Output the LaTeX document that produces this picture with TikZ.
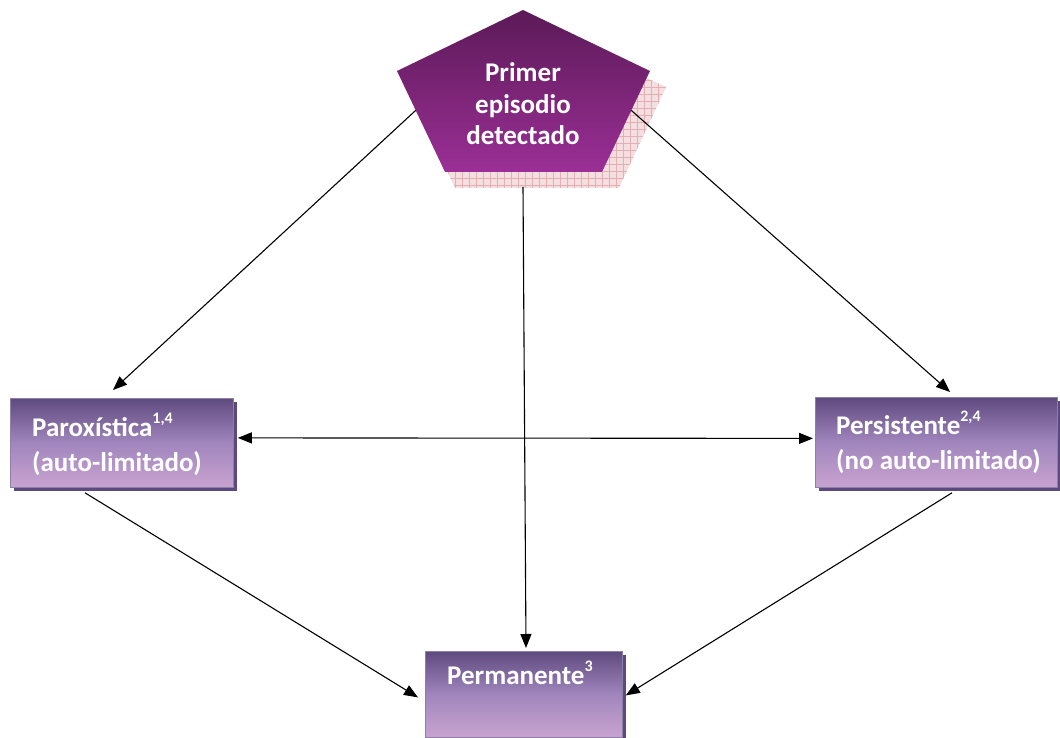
\documentclass[tikz,border=0pt]{standalone}
\usepackage{fontspec}
\setmainfont{Carlito}
\usetikzlibrary{calc,arrows.meta,shadows}
\definecolor{pentop}{HTML}{5B1A57}
\definecolor{penbot}{HTML}{9B2F96}
\definecolor{shpink}{HTML}{F5DEE0}
\definecolor{shgrid}{HTML}{E2AFB4}
\definecolor{boxtop}{HTML}{5F4A7E}
\definecolor{boxmid}{HTML}{A086BD}
\definecolor{boxbot}{HTML}{C9A3D0}
\definecolor{boxedge}{HTML}{5B4A80}
\newcommand{\stagefont}{\fontsize{27}{35}\selectfont\bfseries}
\newcommand{\supnum}[1]{\raisebox{0.5em}{\fontsize{16}{16}\selectfont #1}}
\tikzset{
  stage/.style={rectangle, draw=boxedge!70, line width=0.8pt,
    top color=boxtop, bottom color=boxbot, middle color=boxmid,
    inner sep=0pt, anchor=north west,
    general shadow={fill=boxedge, shadow xshift=4pt, shadow yshift=-4pt}},
  stagetext/.style={text=white, font=\stagefont, align=left, inner sep=0pt, anchor=base west},
  arr/.style={-{Triangle[length=14pt,width=11pt]}, line width=1.1pt},
  biarr/.style={{Triangle[length=14pt,width=11pt]}-{Triangle[length=14pt,width=11pt]}, line width=1.1pt}
}

\begin{document}
\begin{tikzpicture}[x=1pt,y=1pt]

    \useasboundingbox (0,0) rectangle (1060,738);

    \coordinate (pT) at (523,728);
    \coordinate (pL) at (397,667);
    \coordinate (pR) at (650,667);
    \coordinate (pBL) at (445,566);
    \coordinate (pBR) at (602,566);
    \coordinate (shBot) at (523,551);

    \begin{scope}
      \clip ($(pT)+(14,-16)$) -- ($(pR)+(16,-16)$) -- ($(pBR)+(17,-16)$) -- ($(pBL)+(10,-16)$) -- ($(pL)+(12,-16)$) -- cycle;
      \fill[shpink] (380,520) rectangle (700,740);
      \draw[shgrid, step=7, line width=0.5pt] (380,520) grid (700,740);
    \end{scope}

    \shade[top color=pentop, bottom color=penbot] (pT) -- (pR) -- (pBR) -- (pBL) -- (pL) -- cycle;
    \node[text=white, font=\fontsize{27}{31.5}\selectfont\bfseries, align=center] (first) at (523,634) {Primer\\episodio\\detectado};

    \node[stage, minimum width=223pt, minimum height=89pt] (parox) at (10,340) {};
    \node[stage, minimum width=242pt, minimum height=90pt] (persist) at (815,341) {};
    \node[stage, minimum width=197pt, minimum height=86pt] (perm) at (425,87) {};

    \node[stagetext] (paroxTxt) at ($(parox.north west)+(22,-74)$) {Paroxística\supnum{1,4}\\(auto-limitado)};
    \node[stagetext] (persistTxt) at ($(persist.north west)+(21,-73)$) {Persistente\supnum{2,4}\\(no auto-limitado)};
    \node[stagetext] (permTxt) at ($(perm.north west)+(22,-34)$) {Permanente\supnum{3}};

    \draw[arr] ($(pL)!0.39!(pBL)$) -- ($(parox.north west)+(103,8)$);
    \draw[arr] ($(pR)!0.39!(pBR)$) -- ($(persist.north west)+(135,5)$);
    \draw[arr] (shBot) -- ($(perm.north west)+(101,3)$);
    \draw[biarr] ($(parox.east)+(4,5)$) -- ($(persist.west)+(-2,4)$);
    \draw[arr] ($(parox.south west)+(75,-5)$) -- ($(perm.west)+(-7,-3)$);
    \draw[arr] ($(persist.south west)+(137,-5)$) -- ($(perm.east)+(3,-1)$);

\end{tikzpicture}
\end{document}
